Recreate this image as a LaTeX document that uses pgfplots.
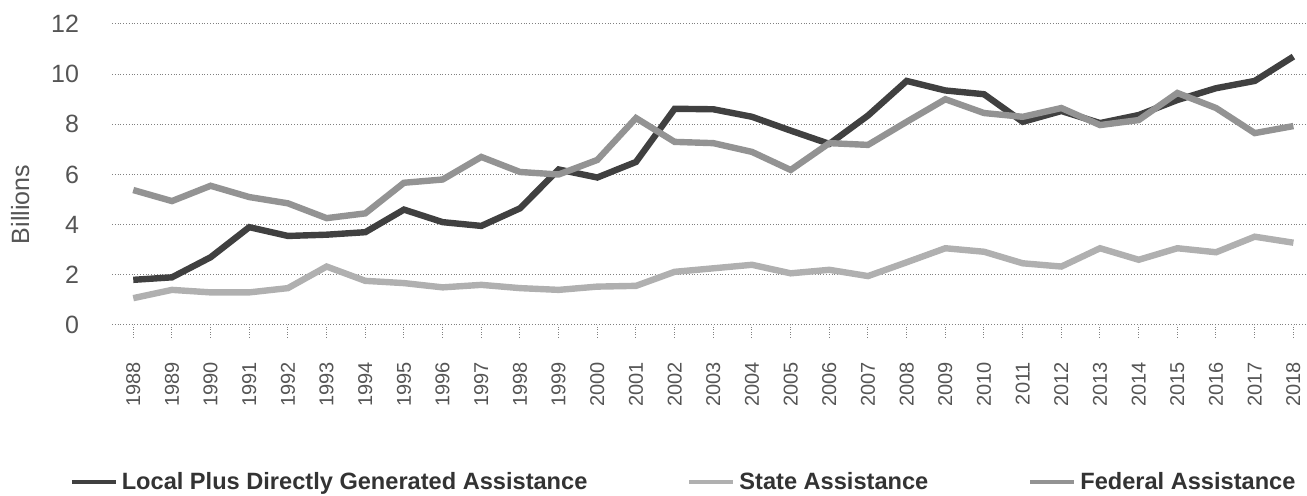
\documentclass[border=0pt]{standalone}
\usepackage{pgfplots}
\pgfplotsset{compat=1.18}
\usepackage{fontspec}
\setmainfont{Liberation Sans}

\definecolor{localc}{HTML}{404040}
\definecolor{fedc}{HTML}{939393}
\definecolor{statec}{HTML}{B0B0B0}
\definecolor{txt}{HTML}{555555}
\definecolor{legtxt}{HTML}{333333}

% 1 px of the reference = 0.5pt
\begin{document}
\begin{tikzpicture}
\useasboundingbox (0pt,0pt) rectangle (653.5pt,248pt);
\begin{axis}[
    at={(56pt,85.5pt)}, anchor=south west,
    scale only axis,
    width=596.5pt, height=150.5pt,
    xmin=1987.45, xmax=2018.3,
    ymin=0, ymax=12,
    xtick={1988,...,2018},
    ytick={0,2,...,12},
    xtick pos=bottom,
    /pgf/number format/1000 sep={},
    /pgf/number format/assume math mode=true,
    axis line style={draw=none},
    ymajorgrids=true,
    grid style={densely dotted, gray, line width=0.5pt},
    tick align=outside,
    major tick length=6pt,
    xtick style={densely dotted, gray, line width=0.5pt},
    ytick style={draw=none},
    xticklabel style={yshift=-9pt, rotate=90, anchor=east, font=\fontsize{10}{12}\selectfont, text=txt},
    yticklabel style={font=\fontsize{12.5}{14}\selectfont, text=txt, xshift=-7pt},
    ylabel={Billions},
    ylabel style={at={(axis description cs:-0.077,0.40)}, anchor=center, font=\fontsize{12.5}{14}\selectfont, text=txt},
    legend columns=3,
    legend cell align=left,
    legend style={draw=none, fill=none, at={(0.48,-0.5216)}, anchor=center,
        font=\bfseries\fontsize{11.8}{14}\selectfont, text=legtxt,
        /tikz/every even column/.append style={column sep=48pt}},
    legend image code/.code={\draw[#1, line width=2pt] (0pt,0pt) -- (22pt,0pt);},
]
\addplot[localc, line width=3.2pt] coordinates {
(1988,1.8)(1989,1.9)(1990,2.7)(1991,3.9)(1992,3.55)(1993,3.6)(1994,3.7)(1995,4.6)
(1996,4.1)(1997,3.95)(1998,4.65)(1999,6.2)(2000,5.88)(2001,6.5)(2002,8.62)(2003,8.6)
(2004,8.3)(2005,7.75)(2006,7.22)(2007,8.35)(2008,9.73)(2009,9.35)(2010,9.2)(2011,8.1)
(2012,8.53)(2013,8.05)(2014,8.37)(2015,8.97)(2016,9.44)(2017,9.73)(2018,10.7)
};
\addlegendentry{Local Plus Directly Generated Assistance}
\addplot[statec, line width=3.2pt] coordinates {
(1988,1.07)(1989,1.4)(1990,1.3)(1991,1.3)(1992,1.47)(1993,2.33)(1994,1.76)(1995,1.67)
(1996,1.5)(1997,1.6)(1998,1.47)(1999,1.4)(2000,1.53)(2001,1.56)(2002,2.12)(2003,2.26)
(2004,2.4)(2005,2.06)(2006,2.2)(2007,1.95)(2008,2.5)(2009,3.06)(2010,2.92)(2011,2.46)
(2012,2.33)(2013,3.06)(2014,2.6)(2015,3.06)(2016,2.9)(2017,3.52)(2018,3.28)
};
\addlegendentry{State Assistance}
\addplot[fedc, line width=3.2pt] coordinates {
(1988,5.38)(1989,4.94)(1990,5.55)(1991,5.1)(1992,4.85)(1993,4.26)(1994,4.45)(1995,5.67)
(1996,5.8)(1997,6.7)(1998,6.1)(1999,6.0)(2000,6.58)(2001,8.25)(2002,7.3)(2003,7.25)
(2004,6.9)(2005,6.18)(2006,7.25)(2007,7.18)(2008,8.1)(2009,9.0)(2010,8.45)(2011,8.3)
(2012,8.65)(2013,7.97)(2014,8.17)(2015,9.25)(2016,8.65)(2017,7.65)(2018,7.93)
};
\addlegendentry{Federal Assistance}
\end{axis}
\end{tikzpicture}
\end{document}
